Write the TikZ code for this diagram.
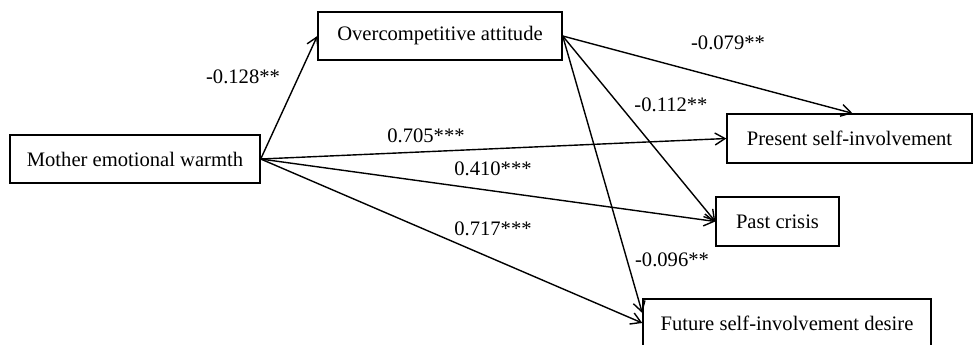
\documentclass[tikz,border=0pt]{standalone}
\usepackage{fontspec}
\setmainfont{Liberation Serif}
\usetikzlibrary{arrows.meta,positioning,calc}

\begin{document}
\begin{tikzpicture}[
  x=0.5pt, y=-0.5pt,
  >={Straight Barb[length=5pt,width=6pt]},
  % boxes and path labels
  V/.style={rectangle, draw, line width=0.7pt, minimum height=24pt,
            inner sep=0pt, font=\fontsize{10.3}{12}\selectfont},
  L/.style={inner sep=0pt, font=\fontsize{10.3}{12}\selectfont},
  path/.style={->, line width=0.7pt},
]
\useasboundingbox (0,0) rectangle (974,344);

%% -- Variables -------------------------------------------------------
\node[V, minimum width=125pt]   (mother)  at (135,159)   {Mother emotional warmth};
\node[V, minimum width=122pt]   (over)    at (440,36)    {Overcompetitive attitude};
\node[V, minimum width=122.5pt, minimum height=24.5pt]
                                (present) at (849.5,138.5) {Present self-involvement};
\node[V, minimum width=61.5pt, minimum height=24.5pt]
                                (past)    at (777.5,221.5) {Past crisis};
\node[V, minimum width=144pt]   (future)  at (787,323)   {Future self-involvement desire};

%% -- Paths -----------------------------------------------------------
\draw[path] (mother.east) -- (over.west);
\draw[path] (mother.east) -- (present.west);
\draw[path] (mother.east) -- (past.west);
\draw[path] (mother.east) -- (future.west);
\draw[path] (over.east) -- ([xshift=1.5pt]present.north);
\draw[path] (over.east) -- (past.west);
\draw[path] (over.east) -- ($(future.west)+(0,-10)$);

%% -- Coefficients ----------------------------------------------------
\node[L] (c128) at (243,77)  {-0.128**};
\node[L] (c705) at (426,136) {0.705***};
\node[L] (c410) at (493,169) {0.410***};
\node[L] (c717) at (493,229) {0.717***};
\node[L] (c079) at (728,43)  {-0.079**};
\node[L] (c112) at (671,105) {-0.112**};
\node[L] (c096) at (672,260) {-0.096**};

\end{tikzpicture}
\end{document}
